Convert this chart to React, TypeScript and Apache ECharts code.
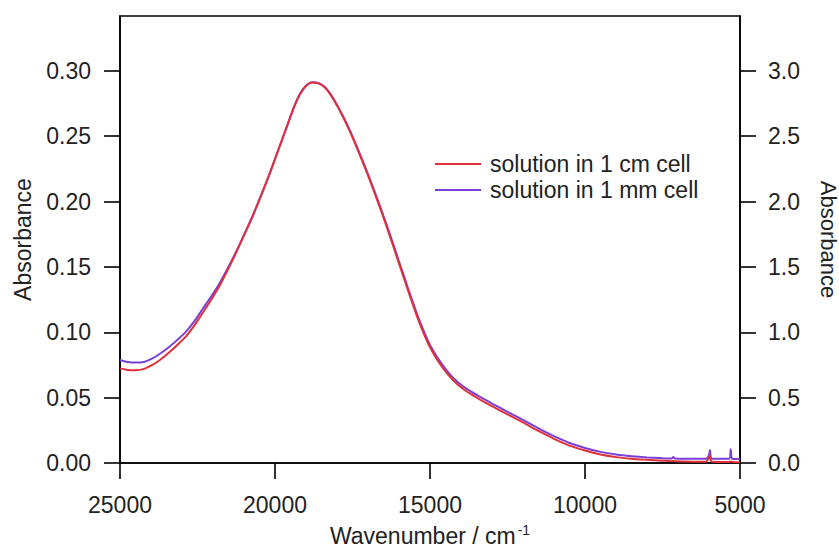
import React, { useEffect, useRef } from "react";
import * as echarts from "echarts";

const wavenumbers = [
  25000, 24750, 24490, 24200, 23955, 23700, 23417, 23150, 22877, 22600, 22340,
  22070, 21800, 21530, 21262, 21000, 20725, 20450, 20186, 20000, 19800, 19600,
  19400, 19200, 19000, 18800, 18600, 18400, 18200, 18000, 17800, 17600, 17400,
  17200, 17000, 16800, 16600, 16400, 16200, 16000, 15800, 15600, 15400, 15200,
  15000, 14700, 14400, 14100, 13800, 13400, 13000, 12500, 12000, 11500, 11000,
  10500, 10000, 9500, 9000, 8500, 8000, 7500, 7200, 7150, 7100, 6500, 6100,
  6000, 5970, 5940, 5900, 5350, 5300, 5250, 5000,
];

// 1 cm cell, left axis
const cmCell = [
  0.0724, 0.0712, 0.071, 0.0722, 0.075, 0.079, 0.0845, 0.0903, 0.0967, 0.1053,
  0.1146, 0.1245, 0.135, 0.1475, 0.1605, 0.1742, 0.1885, 0.2045, 0.2205, 0.2325,
  0.2455, 0.2585, 0.2715, 0.282, 0.2885, 0.2912, 0.2905, 0.2875, 0.2815, 0.2735,
  0.2645, 0.2545, 0.2435, 0.232, 0.22, 0.2075, 0.1945, 0.181, 0.167, 0.1527,
  0.1385, 0.1245, 0.111, 0.099, 0.0885, 0.0765, 0.067, 0.0598, 0.0545, 0.0487,
  0.0435, 0.0372, 0.031, 0.0245, 0.0185, 0.0133, 0.0095, 0.0065, 0.0045, 0.0033,
  0.0025, 0.0018, 0.0014, 0.0016, 0.0013, 0.001, 0.001, 0.004, 0.006, 0.002,
  0.001, 0.0008, 0.0012, 0.0008, 0.0006,
];

// 1 mm cell, right axis
const mmCell = [
  0.788, 0.772, 0.768, 0.775, 0.8, 0.838, 0.888, 0.942, 1.003, 1.085, 1.176,
  1.27, 1.37, 1.488, 1.612, 1.746, 1.888, 2.047, 2.206, 2.326, 2.456, 2.586,
  2.716, 2.821, 2.886, 2.913, 2.907, 2.878, 2.819, 2.74, 2.651, 2.552, 2.443,
  2.329, 2.21, 2.086, 1.957, 1.823, 1.684, 1.542, 1.401, 1.262, 1.128, 1.009,
  0.904, 0.785, 0.69, 0.618, 0.565, 0.507, 0.455, 0.392, 0.33, 0.265, 0.205,
  0.153, 0.115, 0.085, 0.065, 0.052, 0.043, 0.037, 0.035, 0.045, 0.035, 0.032,
  0.032, 0.06, 0.1, 0.04, 0.032, 0.032, 0.105, 0.032, 0.03,
];

const leftTicks = [0, 0.05, 0.1, 0.15, 0.2, 0.25, 0.3];
const rightTicks = [0, 0.5, 1, 1.5, 2, 2.5, 3];
const xTicks = [5000, 10000, 15000, 20000, 25000];

const FONT = "'Liberation Sans', Arial, sans-serif";
const TXT = "#222";

export default function App() {
  const ref = useRef<HTMLDivElement>(null);
  useEffect(() => {
    if (!ref.current) return;
    const chart = echarts.init(ref.current, undefined, { renderer: "svg" });
    const axisLine = { show: true, lineStyle: { color: "#000", width: 1.6 } };
    const axisTick = { show: true, inside: false, length: 16, lineStyle: { color: "#000", width: 1.6 } };
    chart.setOption({
      animation: false,
      backgroundColor: "#fff",
      textStyle: { fontFamily: FONT },
      grid: {
        left: 120,
        right: 99,
        top: 16,
        bottom: 86,
        show: true,
        borderColor: "#000",
        borderWidth: 1.6,
        outerBoundsMode: "none",
        containLabel: false,
      },
      legend: {
        orient: "vertical",
        left: 435,
        top: 152,
        padding: 0,
        itemWidth: 46,
        itemHeight: 2,
        itemGap: 2,
        icon: "rect",
        data: ["solution in 1 cm cell", "solution in 1 mm cell"],
        textStyle: { fontSize: 23, color: TXT, fontFamily: FONT, lineHeight: 24, padding: [0, 0, 0, 4] },
      },
      xAxis: {
        type: "value",
        inverse: true,
        min: 5000,
        max: 25000,
        interval: 5000,
        splitLine: { show: false },
        axisLine,
        axisTick: { ...axisTick, customValues: xTicks },
        axisLabel: {
          customValues: xTicks,
          formatter: (v: number) => String(v),
          fontSize: 23,
          color: TXT,
          margin: 30,
          fontFamily: FONT,
        },
        name: "{a|Wavenumber / cm}{s|-1}",
        nameLocation: "middle",
        nameGap: 60,
        nameTextStyle: {
          rich: {
            a: { fontSize: 23, color: TXT, fontFamily: FONT },
            s: { fontSize: 14, color: TXT, fontFamily: FONT, verticalAlign: "top", padding: [0, 0, 12, 2] },
          },
        },
      },
      yAxis: [
        {
          type: "value",
          position: "left",
          min: 0,
          max: 0.342,
          interval: 0.05,
          splitLine: { show: false },
          axisLine,
          axisTick: { ...axisTick, customValues: leftTicks },
          axisLabel: {
            customValues: leftTicks,
            formatter: (v: number) => v.toFixed(2),
            fontSize: 23,
            color: TXT,
            margin: 29,
            fontFamily: FONT,
          },
          name: "Absorbance",
          nameLocation: "middle",
          nameGap: 86,
          nameRotate: 90,
          nameTextStyle: { fontSize: 23, color: TXT, fontFamily: FONT },
        },
        {
          type: "value",
          position: "right",
          min: 0,
          max: 3.42,
          interval: 0.5,
          splitLine: { show: false },
          axisLine,
          axisTick: { ...axisTick, customValues: rightTicks },
          axisLabel: {
            customValues: rightTicks,
            formatter: (v: number) => v.toFixed(1),
            fontSize: 23,
            color: TXT,
            margin: 28,
            fontFamily: FONT,
          },
          name: "Absorbance",
          nameLocation: "middle",
          nameGap: 77,
          nameRotate: -90,
          nameTextStyle: { fontSize: 22, color: TXT, fontFamily: FONT },
        },
      ],
      series: [
        {
          name: "solution in 1 mm cell",
          type: "line",
          yAxisIndex: 1,
          symbol: "none",
          smooth: 0.25,
          color: "#7a3fd6",
          lineStyle: { width: 2, color: "#7a3fd6" },
          data: wavenumbers.map((w, i) => [w, mmCell[i]]),
        },
        {
          name: "solution in 1 cm cell",
          type: "line",
          yAxisIndex: 0,
          symbol: "none",
          smooth: 0.25,
          color: "#e0303a",
          lineStyle: { width: 2, color: "#e0303a" },
          data: wavenumbers.map((w, i) => [w, cmCell[i]]),
        },
      ],
    });
    return () => chart.dispose();
  }, []);
  return <div ref={ref} style={{ width: 839, height: 549, position: "absolute", left: 0, top: 0 }} />;
}
